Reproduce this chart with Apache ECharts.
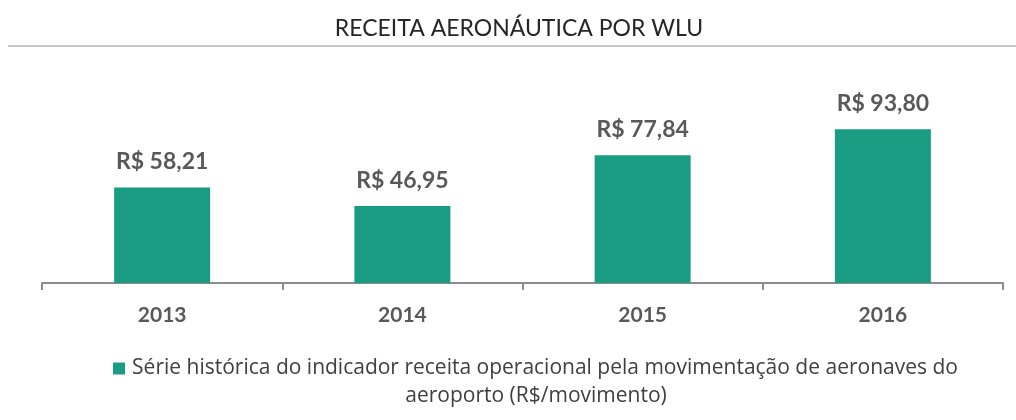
<!DOCTYPE html>
<html>
<head>
<meta charset="utf-8">
<script src="https://cdn.jsdelivr.net/npm/echarts@6/dist/echarts.min.js"></script>
<style>
  html, body { margin: 0; padding: 0; background: #fff; }
  #chart { width: 1016px; height: 420px; }
</style>
</head>
<body>
<div id="chart"></div>
<script>
  // dados
  const years = ['2013', '2014', '2015', '2016'];
  const receita = [58.21, 46.95, 77.84, 93.80];
  const serieNome = 'Série histórica do indicador receita operacional pela movimentação de aeronaves do aeroporto (R$/movimento)';
  const legendaLinhas = ['Série histórica do indicador receita operacional pela movimentação de aeronaves do', 'aeroporto (R$/movimento)'];

  const font = 'Lato, "Open Sans", sans-serif';
  const legendFont = '"Open Sans", Lato, sans-serif';
  const chart = echarts.init(document.getElementById('chart'));

  const option = {
    animation: false,
    textStyle: { fontFamily: font },
    graphic: [
      {
        type: 'text',
        x: 519,
        y: 17,
        style: { text: 'RECEITA AERONÁUTICA POR WLU', font: '23px ' + font, fill: '#262626', textAlign: 'center' }
      },
      {
        type: 'rect',
        shape: { x: 8, y: 45, width: 1008, height: 2 },
        style: { fill: '#c8c8c8' }
      }
    ],
    grid: { left: 42, right: 13, top: 119, bottom: 137 },
    xAxis: {
      type: 'category',
      data: years,
      axisLine: { lineStyle: { color: '#8c8c8c', width: 2 } },
      axisTick: { show: true, length: 7, lineStyle: { color: '#8c8c8c', width: 2 } },
      axisLabel: { fontSize: 21, fontWeight: 'bold', color: '#595959', margin: 22 }
    },
    yAxis: {
      type: 'value',
      min: 0,
      max: 100,
      show: false
    },
    legend: {
      bottom: 8,
      left: 108,
      itemWidth: 12,
      itemHeight: 12,
      itemGap: 6,
      icon: 'rect',
      data: [serieNome],
      // segunda linha centrada no bloco todo (ícone + texto)
      formatter: () => '{a|' + legendaLinhas[0] + '}\n{b|' + legendaLinhas[1] + '}{sp|}',
      textStyle: {
        padding: [28, 0, 0, 0],
        rich: {
          a: { fontSize: 21, color: '#404040', lineHeight: 28, width: 830, align: 'center', fontFamily: legendFont },
          b: { fontSize: 21, color: '#404040', lineHeight: 28, align: 'center', fontFamily: legendFont },
          sp: { width: 18, lineHeight: 28, align: 'center' }
        }
      }
    },
    series: [{
      name: serieNome,
      type: 'bar',
      data: receita,
      barWidth: 96,
      itemStyle: { color: '#1a9c82' },
      label: {
        show: true,
        position: 'top',
        distance: 14,
        fontSize: 23,
        fontWeight: 'bold',
        color: '#595959',
        formatter: p => 'R$ ' + p.value.toFixed(2).replace('.', ',')
      }
    }]
  };

  chart.setOption(option);
</script>
</body>
</html>
